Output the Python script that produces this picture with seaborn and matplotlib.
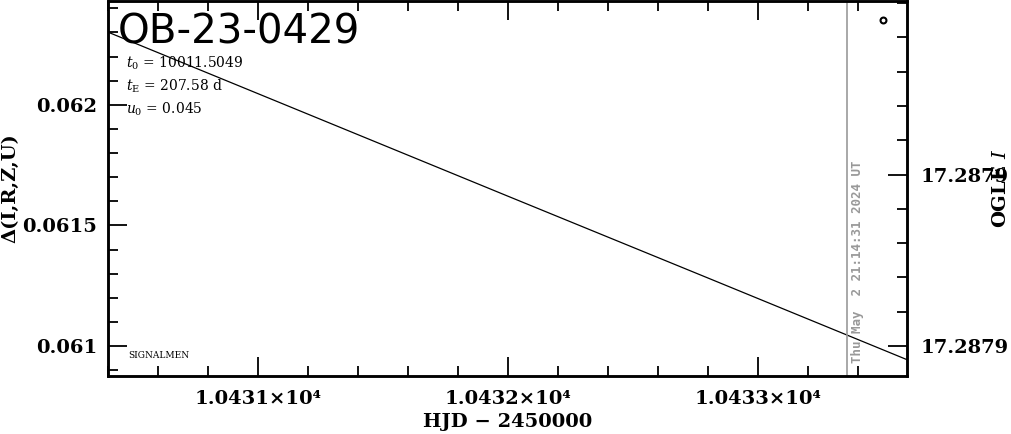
import matplotlib
matplotlib.use("Agg")
import matplotlib.pyplot as plt
import seaborn as sns
import numpy as np
import pandas as pd
from matplotlib.ticker import MultipleLocator

# ---- data ----
model_hjd = [10430.4, 10431.2, 10432.0, 10432.8, 10433.6]
model_delta = [0.062301, 0.061961, 0.061621, 0.061282, 0.060942]
obs_hjd = [10433.5]
obs_mag = [17.287919]
now_hjd = 10433.356
x_ticks = [10431, 10432, 10433]
x_labels = ["1.0431×10⁴", "1.0432×10⁴", "1.0433×10⁴"]
left_ticks = [0.061, 0.0615, 0.062]
left_labels = ["0.061", "0.0615", "0.062"]
right_ticks = [17.28790, 17.28791]
right_labels = ["17.2879", "17.2879"]
event = "OB-23-0429"
params = [r"$t_0$ = 10011.5049", r"$t_{\rm E}$ = 207.58 d", r"$u_0$ = 0.045"]
stamp = "Thu May  2 21:14:31 2024 UT"

sns.set_style("ticks", {"axes.edgecolor": "black", "text.color": "black",
                        "xtick.color": "black", "ytick.color": "black",
                        "axes.labelcolor": "black"})
plt.rcParams['font.family'] = ['DejaVu Serif']
plt.rcParams['mathtext.fontset'] = 'dejavuserif'

fig = plt.figure(figsize=(10.11, 4.34), dpi=100)
ax = fig.add_axes([108/1011, 58/434, 799/1011, 375/434])

df = pd.DataFrame({"hjd": model_hjd, "delta": model_delta})
sns.lineplot(data=df, x="hjd", y="delta", ax=ax, color="black", lw=0.9)
ax.axvline(now_hjd, color="#999999", lw=1.2)

ax.set_xlim(10430.4, 10433.596)
ax.set_ylim(0.060876, 0.06243)
ax.set_xticks(x_ticks)
ax.set_xticklabels(x_labels, fontsize=14, fontweight="bold")
ax.set_yticks(left_ticks)
ax.set_yticklabels(left_labels, fontsize=14, fontweight="bold")
ax.xaxis.set_minor_locator(MultipleLocator(0.2))
ax.yaxis.set_minor_locator(MultipleLocator(0.0001))
ax.tick_params(which="major", direction="in", length=14, width=1.3, top=True, right=False, pad=8)
ax.tick_params(which="minor", direction="in", length=7, width=1.3, top=True, right=False)
ax.tick_params(axis="x", which="major", labeltop=False, pad=10)
for s in ax.spines.values():
    s.set_linewidth(1.8)
    s.set_color("black")
ax.set_xlabel("HJD − 2450000", fontsize=14, fontweight="bold", labelpad=4)
ax.set_ylabel("Δ(I,R,Z,U)", fontsize=14, fontweight="bold", labelpad=2)

ax2 = ax.twinx()
dfo = pd.DataFrame({"hjd": obs_hjd, "mag": obs_mag})
sns.scatterplot(data=dfo, x="hjd", y="mag", ax=ax2, s=18, facecolor="white",
                edgecolor="black", linewidth=1.5)
ax2.set_ylim(17.28790 - 30/172*1e-5, 17.28790 + 346/172*1e-5)
ax2.set_xlim(10430.4, 10433.596)
ax2.set_yticks(right_ticks)
ax2.set_yticklabels(right_labels, fontsize=14, fontweight="bold")
ax2.yaxis.set_minor_locator(MultipleLocator(0.2e-5))
ax2.tick_params(which="major", direction="in", length=14, width=1.3, pad=10)
ax2.tick_params(which="minor", direction="in", length=7, width=1.3)
ax2.set_ylabel("OGLE $I$", fontsize=14, fontweight="bold", labelpad=-12)
ax2.set_xlabel("")
for s in ax2.spines.values():
    s.set_linewidth(1.8)
    s.set_color("black")

ax.text(0.012, 0.915, event, transform=ax.transAxes, fontsize=29, fontfamily="DejaVu Sans",
        va="center", ha="left")
for i, p in enumerate(params):
    ax.text(0.022, 0.835 - i * 0.062, p, transform=ax.transAxes, fontsize=10, va="center", ha="left")
ax.text(0.025, 0.055, "SIGNALMEN", transform=ax.transAxes, fontsize=6.5, va="center", ha="left")
ax.text(now_hjd + 0.04, 0.06093, stamp, rotation=90, fontsize=9, fontweight="bold",
        color="#999999", fontfamily="DejaVu Sans Mono", va="bottom", ha="center")

fig.savefig("out.png", dpi=100)
